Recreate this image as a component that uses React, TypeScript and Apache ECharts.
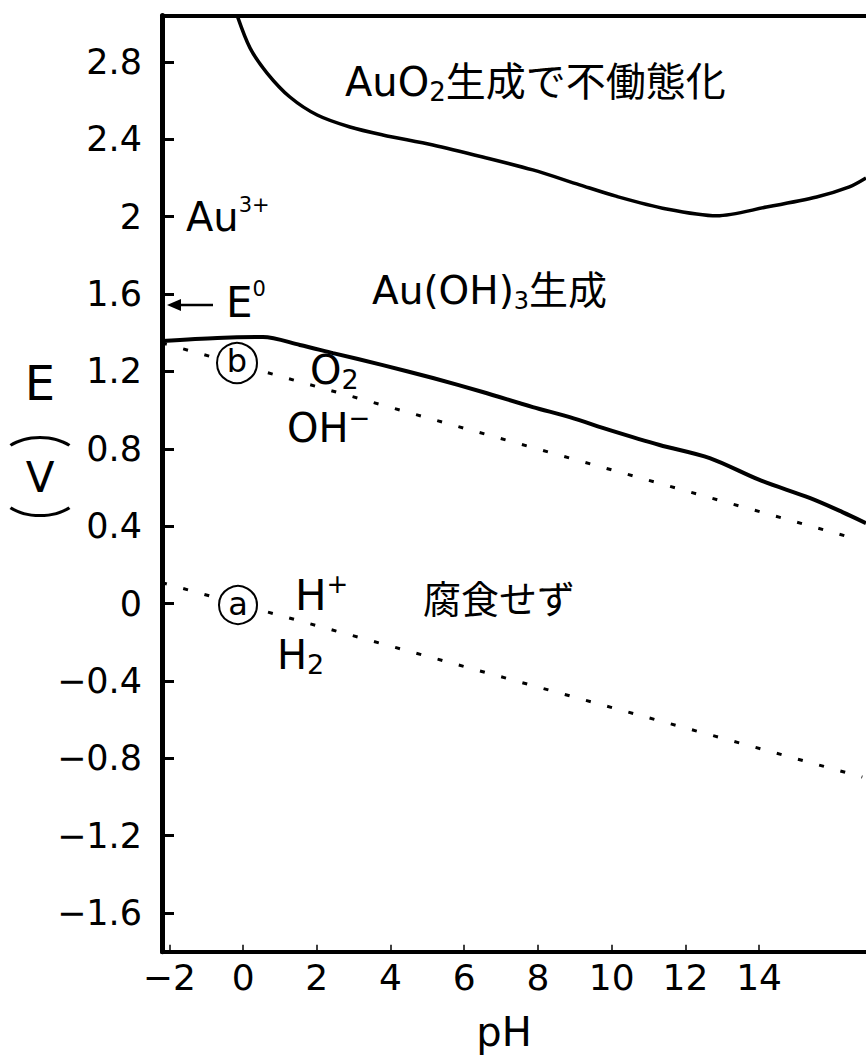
import React, { useEffect, useRef } from "react";
import * as echarts from "echarts";

// pH axis ticks and E axis ticks
const xTicks = [-2, 0, 2, 4, 6, 8, 10, 12, 14];
const yTicks = [-1.6, -1.2, -0.8, -0.4, 0, 0.4, 0.8, 1.2, 1.6, 2.0, 2.4, 2.8];

// AuO2 formation boundary (pH, E)
const auo2Boundary: [number, number][] = [
  [-0.16, 3.04], [0.19, 2.872], [0.65, 2.743], [1.27, 2.619], [2.01, 2.526],
  [2.9, 2.464], [3.79, 2.423], [5.15, 2.371], [6.5, 2.309], [7.86, 2.242],
  [9.13, 2.165], [10.14, 2.105], [11.49, 2.04], [12.85, 2.005], [14.2, 2.05],
  [15.56, 2.102], [16.45, 2.154], [16.9, 2.2],
];

// Au / Au(OH)3 boundary (pH, E)
const auohBoundary: [number, number][] = [
  [-2.2, 1.357], [-0.7, 1.373], [0.54, 1.378], [1.54, 1.337], [2.44, 1.295],
  [3.79, 1.233], [5.15, 1.166], [6.5, 1.094], [7.86, 1.016], [8.86, 0.964],
  [9.95, 0.897], [11.3, 0.82], [12.66, 0.752], [14.01, 0.639], [15.37, 0.546],
  [16.26, 0.473], [16.9, 0.416],
];

// line (b): O2 / OH-
const lineB: [number, number][] = [[-2.2, 1.348], [16.45, 0.344]];
// line (a): H+ / H2
const lineA: [number, number][] = [[-2.2, 0.108], [16.8, -0.897]];

const LAT = "'DejaVu Sans', 'Noto Sans CJK JP', sans-serif";
const CJKV = "'Noto Sans CJK JP', sans-serif";

function fmt(v: number): string {
  const r = Math.round(v * 10) / 10;
  const s = Math.abs(r).toString();
  return r < 0 ? "\u2212" + s : s;
}

function txt(text: string, x: number, y: number, fontSize: number, align = "left", family = LAT, extra: any = {}) {
  return {
    type: "text",
    x,
    y,
    z: 100,
    ...extra,
    style: {
      text,
      fontSize,
      fontFamily: family,
      fill: "#000",
      align,
      textAlign: align,
      verticalAlign: "middle",
      textVerticalAlign: "middle",
    },
  };
}

// rich text: m = main, s = subscript, u = superscript
function rich(text: string, x: number, y: number, fs: number, subFs: number, supFs: number) {
  const lh = Math.round(fs * 1.15);
  return {
    type: "text",
    x,
    y,
    z: 100,
    style: {
      text,
      align: "left",
      textAlign: "left",
      verticalAlign: "middle",
      textVerticalAlign: "middle",
      fill: "#000",
      fontSize: fs,
      fontFamily: LAT,
      rich: {
        m: { fontSize: fs, fontFamily: LAT, fill: "#000", lineHeight: lh },
        s: { fontSize: subFs, fontFamily: LAT, fill: "#000", lineHeight: Math.round(lh * 0.78), verticalAlign: "bottom" },
        u: { fontSize: supFs, fontFamily: LAT, fill: "#000", lineHeight: Math.round(lh * 0.68), verticalAlign: "top" },
      },
    },
  };
}

export default function App() {
  const ref = useRef<HTMLDivElement>(null);
  useEffect(() => {
    document.body.style.margin = "0";
    const chart = echarts.init(ref.current!, null, { renderer: "svg" });
    const dashed = { color: "#000", width: 3, type: [5, 17] as any };
    chart.setOption({
      animation: false,
      backgroundColor: "#fff",
      grid: { left: 162, right: 0, top: 15.6, bottom: 106.3, containLabel: false },
      xAxis: [
        {
          type: "value",
          min: -2.2,
          max: 16.9,
          position: "bottom",
          axisLine: { show: true, onZero: false, lineStyle: { color: "#000", width: 4 } },
          axisTick: { show: true, inside: true, length: 7, customValues: xTicks, lineStyle: { color: "#000", width: 1.5 } },
          axisLabel: {
            customValues: xTicks,
            formatter: (v: number) => fmt(v),
            fontSize: 36,
            fontFamily: LAT,
            color: "#000",
            margin: 8,
          },
          splitLine: { show: false },
        },
        {
          type: "value",
          min: -2.2,
          max: 16.9,
          position: "top",
          axisLine: { show: true, onZero: false, lineStyle: { color: "#000", width: 4 } },
          axisTick: { show: false },
          axisLabel: { show: false },
          splitLine: { show: false },
        },
      ],
      yAxis: {
        type: "value",
        min: -1.8,
        max: 3.04,
        axisLine: { show: true, onZero: false, lineStyle: { color: "#000", width: 5 } },
        axisTick: { show: true, inside: true, length: 12, customValues: yTicks, lineStyle: { color: "#000", width: 3 } },
        axisLabel: {
          customValues: yTicks,
          formatter: (v: number) => fmt(v),
          fontSize: 35,
          fontFamily: LAT,
          color: "#000",
          margin: 20,
        },
        splitLine: { show: false },
      },
      series: [
        { type: "line", data: auo2Boundary, smooth: 0.3, symbol: "none", lineStyle: { color: "#000", width: 3.5 } },
        { type: "line", data: auohBoundary, smooth: 0.3, symbol: "none", lineStyle: { color: "#000", width: 4 } },
        { type: "line", data: lineB, symbol: "none", lineStyle: dashed },
        { type: "line", data: lineA, symbol: "none", lineStyle: dashed },
      ],
      graphic: [
        rich("{m|AuO}{s|2}{m|生成で不働態化}", 345, 82, 40, 26, 22),
        rich("{m|Au}{u|3+}", 186, 217, 40, 26, 21),
        { type: "line", z: 100, shape: { x1: 176, y1: 305, x2: 213, y2: 305 }, style: { stroke: "#000", lineWidth: 2.5 } },
        { type: "polygon", z: 100, shape: { points: [[167, 305], [181, 299], [181, 311]] }, style: { fill: "#000" } },
        rich("{m|E}{u|0}", 226, 302, 42, 26, 21),
        rich("{m|Au(OH)}{s|3}{m|生成}", 372, 290, 39, 24, 22),
        { type: "circle", z: 100, shape: { cx: 237, cy: 363, r: 20 }, style: { fill: "#fff", stroke: "#000", lineWidth: 2 } },
        txt("b", 237, 361, 32, "center"),
        rich("{m|O}{s|2}", 310, 370, 40, 27, 22),
        rich("{m|OH}{u|−}", 287, 428, 40, 26, 26),
        { type: "circle", z: 100, shape: { cx: 238, cy: 605, r: 19 }, style: { fill: "#fff", stroke: "#000", lineWidth: 2 } },
        txt("a", 238, 604, 32, "center"),
        rich("{m|H}{u|+}", 295, 595, 42, 26, 26),
        rich("{m|H}{s|2}", 277, 655, 40, 27, 22),
        txt("腐食せず", 423, 600, 38, "left", LAT),
        txt("E", 40, 383, 48, "center"),
        txt("\ufe35", 40, 425, 40, "center", CJKV, { scaleX: 1.6, originX: 0, originY: 0 }),
        txt("V", 40, 477, 42, "center"),
        txt("\ufe36", 40, 522, 40, "center", CJKV, { scaleX: 1.6, originX: 0, originY: 0 }),
        txt("pH", 504, 1032, 40, "center"),
      ],
    });
    return () => chart.dispose();
  }, []);
  return <div ref={ref} style={{ position: "absolute", left: 0, top: 0, width: 866, height: 1058 }} />;
}
